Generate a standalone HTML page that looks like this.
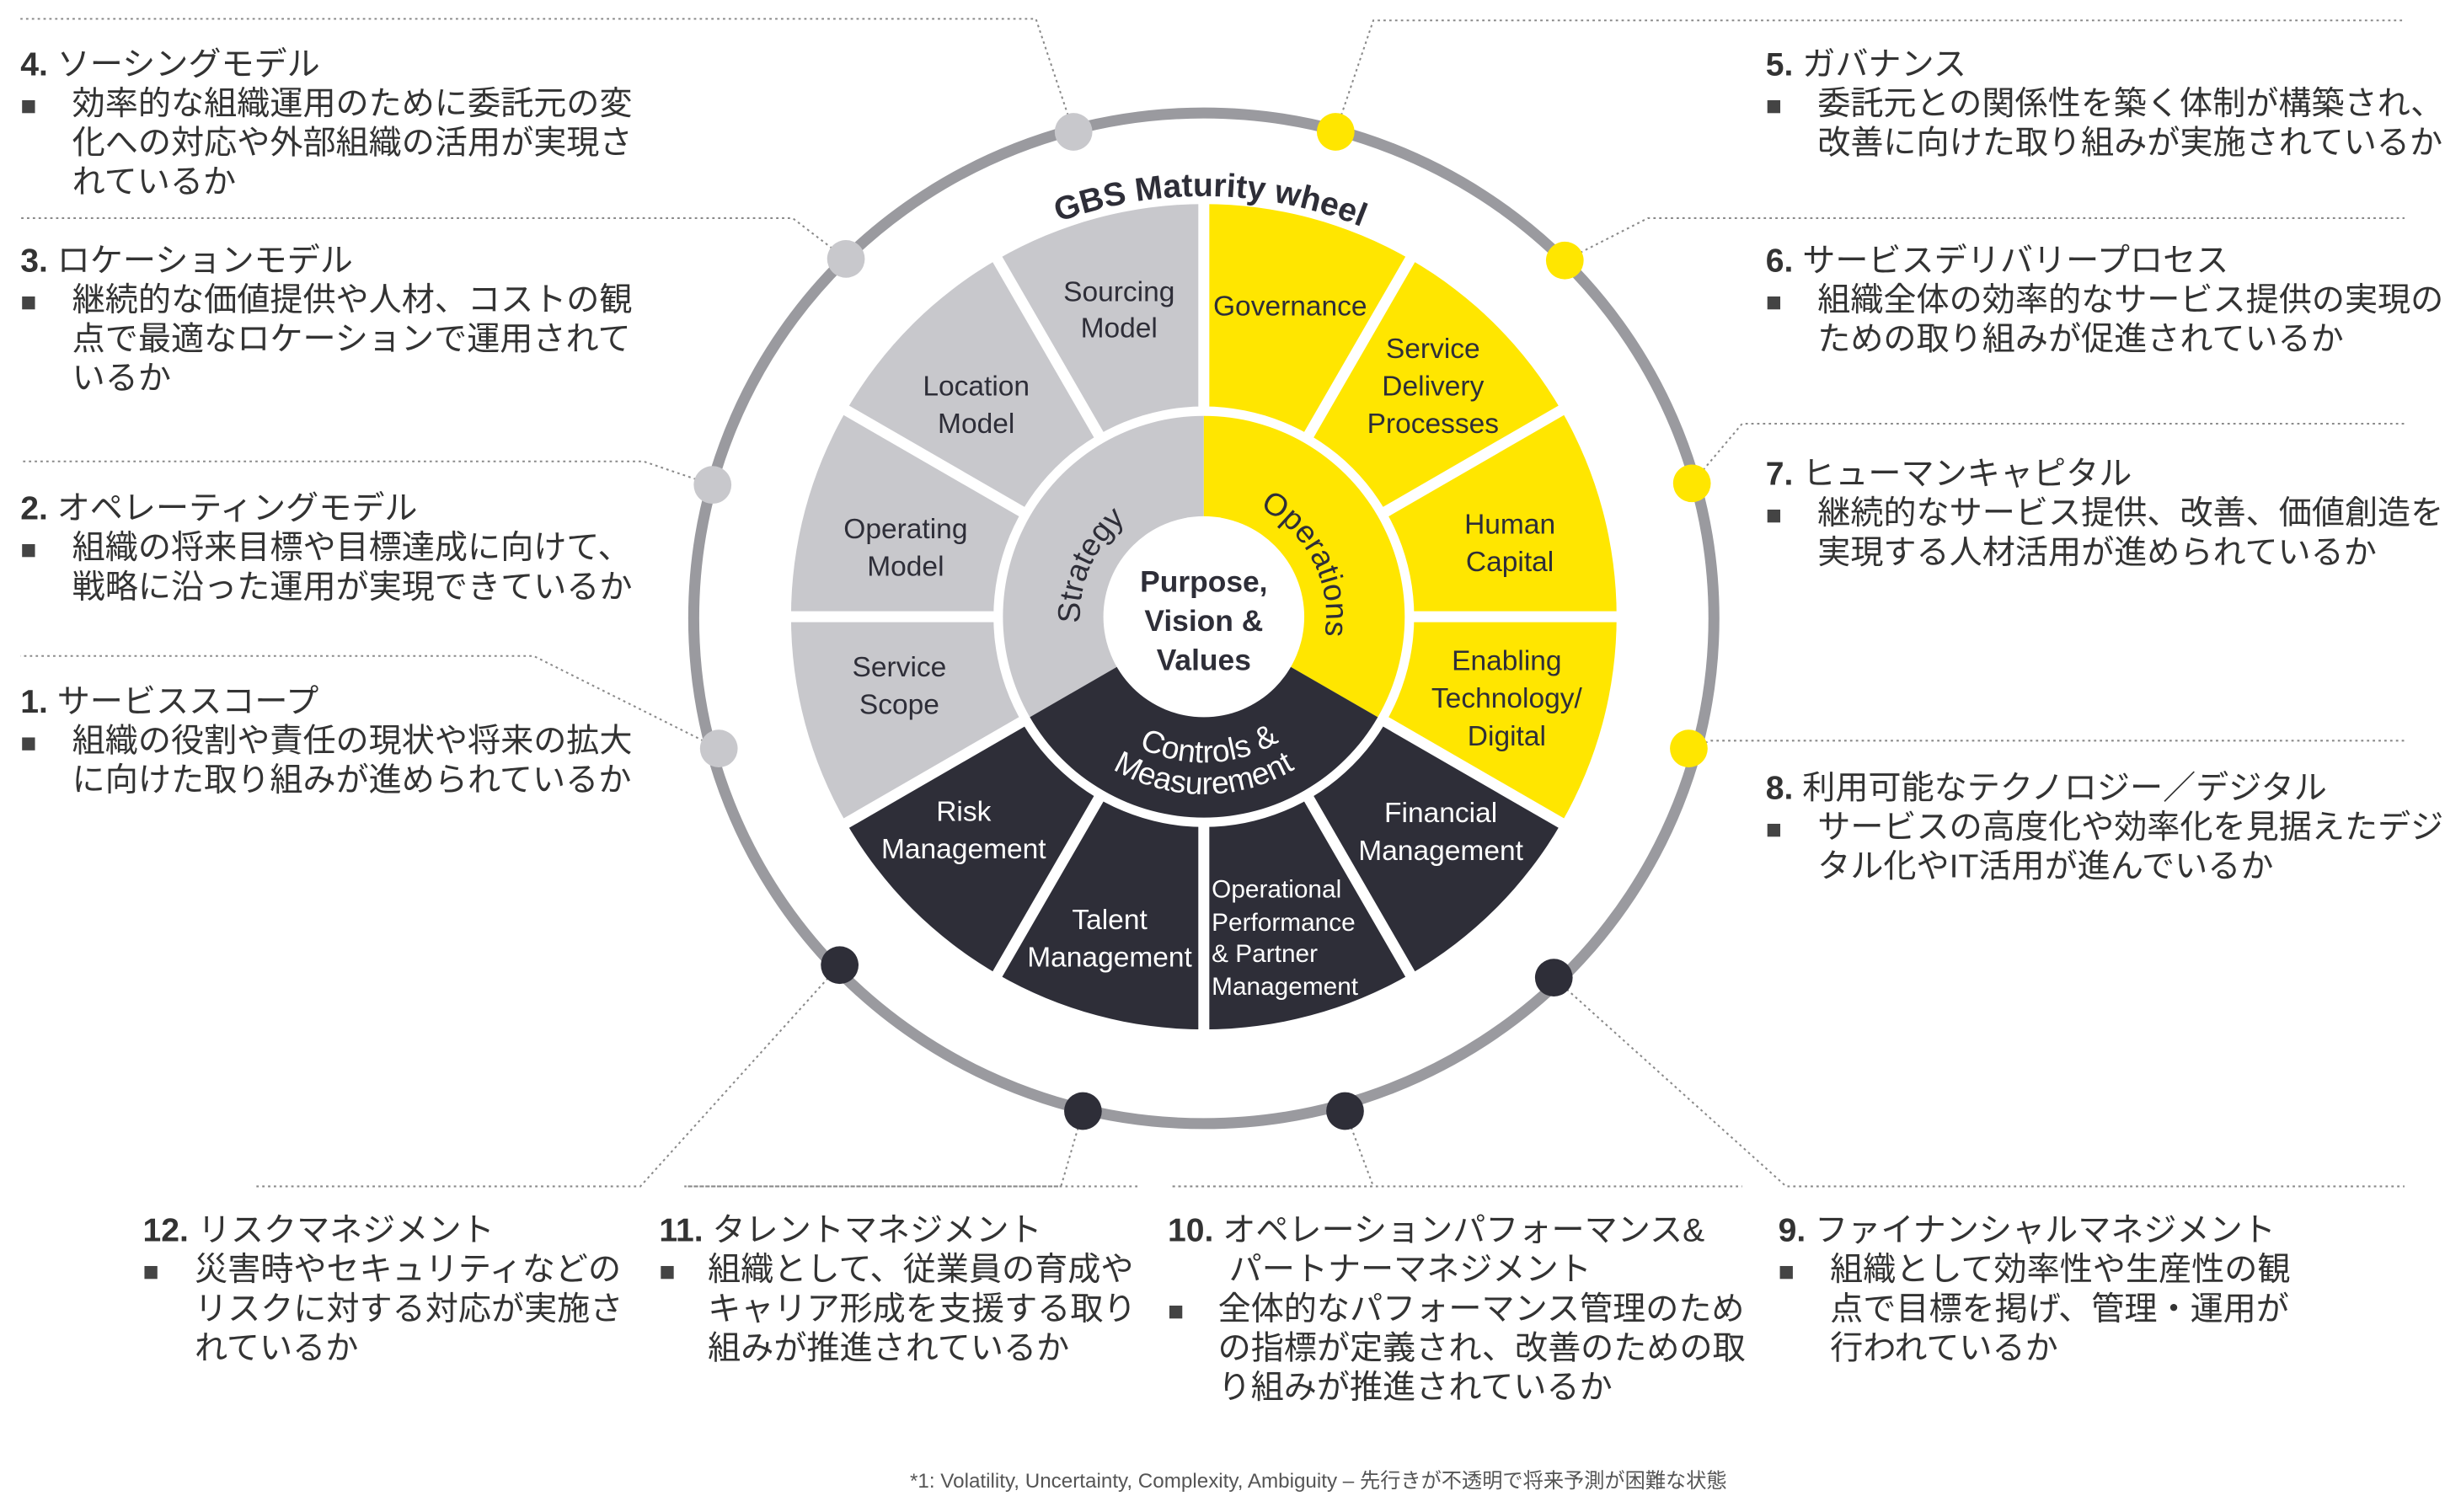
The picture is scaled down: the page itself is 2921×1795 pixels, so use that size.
<!DOCTYPE html>
<html><head><meta charset="utf-8"><style>
html,body{margin:0;padding:0;background:#fff;}
svg{display:block;}
.t{font-family:"Liberation Sans","Noto Sans CJK JP",sans-serif;font-size:21px;fill:#333;}
.b{font-family:"Liberation Sans","Noto Sans CJK JP",sans-serif;font-size:17px;fill:#444;}
.s{font-family:"Liberation Sans",sans-serif;font-size:18px;fill:#2e2e38;text-anchor:middle;}
.w{fill:#fff;}
.ld{fill:none;stroke:#8a8a8a;stroke-width:1.1;stroke-dasharray:1.5 2.2;}
</style></head><body>
<svg width="2921" height="1795" viewBox="0 0 1568 963.5" preserveAspectRatio="none" xmlns="http://www.w3.org/2000/svg">
<defs>
<path id="pG" d="M577.5,203.5 A268,268 0 0 1 956.5,203.5"/>
<path id="pS" d="M712.1,449.8 A79,79 0 0 1 772.5,314.2"/>
<path id="pO" d="M757.4,315.6 A78,78 0 0 1 824,446.2"/>
<path id="pC1" d="M686.5,439.5 A93,93 0 0 0 847.5,439.5"/>
<path id="pC2" d="M669.1,449.5 A113,113 0 0 0 864.9,449.5"/>
</defs>
<!-- leader lines -->
<g class="ld">
<polyline points="684,84 660,12 13,12"/>
<polyline points="539,165 505,139 13,139"/>
<polyline points="454,309 410,294 13,294"/>
<polyline points="458,477 358,427 340,418 13,418"/>
<polyline points="851,84 875,13 1532,13"/>
<polyline points="997,166 1050,139 1532,139"/>
<polyline points="1078,308 1110,270 1532,270"/>
<polyline points="1076,477 1090,472 1532,472"/>
<polyline points="535,615 408,756 163,756"/>
<polyline points="690,708 676,756 436,756 726,756"/>
<polyline points="857,708 875,756 746,756 1110,756"/>
<polyline points="990,623 1138,756 1532,756"/>
</g>
<!-- outer ring -->
<ellipse cx="767" cy="394" rx="325" ry="322" fill="none" stroke="#9a9a9f" stroke-width="7"/>
<g>
<circle cx="684" cy="84" r="12" fill="#c8c8cc"/><circle cx="539" cy="165" r="12" fill="#c8c8cc"/>
<circle cx="454" cy="309" r="12" fill="#c8c8cc"/><circle cx="458" cy="477" r="12" fill="#c8c8cc"/>
<circle cx="851" cy="84" r="12" fill="#ffe600"/><circle cx="997" cy="166" r="12" fill="#ffe600"/>
<circle cx="1078" cy="308" r="12" fill="#ffe600"/><circle cx="1076" cy="477" r="12" fill="#ffe600"/>
<circle cx="535" cy="615" r="12" fill="#2e2e38"/><circle cx="690" cy="708" r="12" fill="#2e2e38"/>
<circle cx="857" cy="708" r="12" fill="#2e2e38"/><circle cx="990" cy="623" r="12" fill="#2e2e38"/>
</g>
<!-- segments -->
<path d="M767,393 L539.24,524.5 A263,263 0 0 1 767,130 Z" fill="#c8c8cc"/>
<path d="M767,393 L767,130 A263,263 0 0 1 994.76,524.5 Z" fill="#ffe600"/>
<path d="M767,393 L994.76,524.5 A263,263 0 0 1 539.24,524.5 Z" fill="#2e2e38"/>
<g stroke="#fff" stroke-width="7">
<line x1="767" y1="123" x2="767" y2="663"/>
<line x1="902" y1="159.2" x2="632" y2="626.8"/>
<line x1="1000.8" y1="258" x2="533.2" y2="528"/>
<line x1="1037" y1="393" x2="497" y2="393"/>
<line x1="1000.8" y1="528" x2="533.2" y2="258"/>
<line x1="902" y1="626.8" x2="632" y2="159.2"/>
</g>
<circle cx="767" cy="393" r="134" fill="#fff"/>
<path d="M767,393 L656.15,457 A128,128 0 0 1 767,265 Z" fill="#c8c8cc"/>
<path d="M767,393 L767,265 A128,128 0 0 1 877.85,457 Z" fill="#ffe600"/>
<path d="M767,393 L877.85,457 A128,128 0 0 1 656.15,457 Z" fill="#2e2e38"/>
<circle cx="767" cy="393" r="64" fill="#fff"/>
<!-- curved labels -->
<text style="font-family:'Liberation Sans',sans-serif;font-weight:bold;font-size:21px;fill:#2e2e38"><textPath href="#pG" startOffset="51%" text-anchor="middle">GBS Maturity wheel</textPath></text>
<text style="font-family:'Liberation Sans',sans-serif;font-size:20px;fill:#2e2e38"><textPath href="#pS" startOffset="50%" text-anchor="middle">Strategy</textPath></text>
<text style="font-family:'Liberation Sans',sans-serif;font-size:20px;fill:#2e2e38"><textPath href="#pO" startOffset="50%" text-anchor="middle">Operations</textPath></text>
<text style="font-family:'Liberation Sans',sans-serif;font-size:20px;fill:#fff"><textPath href="#pC1" startOffset="52%" text-anchor="middle">Controls &amp;</textPath></text>
<text style="font-family:'Liberation Sans',sans-serif;font-size:20px;fill:#fff"><textPath href="#pC2" startOffset="50%" text-anchor="middle">Measurement</textPath></text>
<!-- center -->
<g style="font-family:'Liberation Sans',sans-serif;font-weight:bold;font-size:19px;fill:#2e2e38" text-anchor="middle">
<text x="767" y="377">Purpose,</text><text x="767" y="402">Vision &amp;</text><text x="767" y="427">Values</text>
</g>
<!-- segment labels -->
<g class="s">
<text x="713" y="192" class="s">Sourcing</text><text x="713" y="215" class="s">Model</text>
<text x="622" y="252" class="s">Location</text><text x="622" y="276" class="s">Model</text>
<text x="577" y="343" class="s">Operating</text><text x="577" y="367" class="s">Model</text>
<text x="573" y="431" class="s">Service</text><text x="573" y="455" class="s">Scope</text>
<text x="822" y="201" class="s">Governance</text>
<text x="913" y="228" class="s">Service</text><text x="913" y="252" class="s">Delivery</text><text x="913" y="276" class="s">Processes</text>
<text x="962" y="340" class="s">Human</text><text x="962" y="364" class="s">Capital</text>
<text x="960" y="427" class="s">Enabling</text><text x="960" y="451" class="s">Technology/</text><text x="960" y="475" class="s">Digital</text>
<text x="918" y="524" class="s" style="fill:#fff">Financial</text><text x="918" y="548" class="s" style="fill:#fff">Management</text>
<text x="707" y="592" class="s" style="fill:#fff">Talent</text><text x="707" y="616" class="s" style="fill:#fff">Management</text>
<text x="614" y="523" class="s" style="fill:#fff">Risk</text><text x="614" y="547" class="s" style="fill:#fff">Management</text>
</g>
<g style="font-family:'Liberation Sans',sans-serif;font-size:16px;fill:#fff">
<text x="772" y="572">Operational</text><text x="772" y="593">Performance</text><text x="772" y="613">&amp; Partner</text><text x="772" y="634">Management</text>
</g>
<!-- left texts -->
<g class="t">
<text x="13" y="48"><tspan font-weight="bold">4.</tspan> ソーシングモデル</text>
<text x="46" y="73">効率的な組織運用のために委託元の変</text><text x="46" y="98">化への対応や外部組織の活用が実現さ</text><text x="46" y="123">れているか</text>
<text x="13" y="173"><tspan font-weight="bold">3.</tspan> ロケーションモデル</text>
<text x="46" y="198">継続的な価値提供や人材、コストの観</text><text x="46" y="223">点で最適なロケーションで運用されて</text><text x="46" y="248">いるか</text>
<text x="13" y="331"><tspan font-weight="bold">2.</tspan> オペレーティングモデル</text>
<text x="46" y="356">組織の将来目標や目標達成に向けて、</text><text x="46" y="381">戦略に沿った運用が実現できているか</text>
<text x="13" y="454"><tspan font-weight="bold">1.</tspan> サービススコープ</text>
<text x="46" y="479">組織の役割や責任の現状や将来の拡大</text><text x="46" y="504">に向けた取り組みが進められているか</text>
<!-- right -->
<text x="1125" y="48"><tspan font-weight="bold">5.</tspan> ガバナンス</text>
<text x="1158" y="73">委託元との関係性を築く体制が構築され、</text><text x="1158" y="98">改善に向けた取り組みが実施されているか</text>
<text x="1125" y="173"><tspan font-weight="bold">6.</tspan> サービスデリバリープロセス</text>
<text x="1158" y="198">組織全体の効率的なサービス提供の実現の</text><text x="1158" y="223">ための取り組みが促進されているか</text>
<text x="1125" y="309"><tspan font-weight="bold">7.</tspan> ヒューマンキャピタル</text>
<text x="1158" y="334">継続的なサービス提供、改善、価値創造を</text><text x="1158" y="359">実現する人材活用が進められているか</text>
<text x="1125" y="509"><tspan font-weight="bold">8.</tspan> 利用可能なテクノロジー／デジタル</text>
<text x="1158" y="534">サービスの高度化や効率化を見据えたデジ</text><text x="1158" y="559">タル化やIT活用が進んでいるか</text>
<!-- bottom -->
<text x="91" y="791"><tspan font-weight="bold">12.</tspan> リスクマネジメント</text>
<text x="124" y="816">災害時やセキュリティなどの</text><text x="124" y="841">リスクに対する対応が実施さ</text><text x="124" y="866">れているか</text>
<text x="420" y="791"><tspan font-weight="bold">11.</tspan> タレントマネジメント</text>
<text x="451" y="816">組織として、従業員の育成や</text><text x="451" y="841">キャリア形成を支援する取り</text><text x="451" y="866">組みが推進されているか</text>
<text x="744" y="791"><tspan font-weight="bold">10.</tspan> オペレーションパフォーマンス&amp;</text>
<text x="783" y="816">パートナーマネジメント</text>
<text x="776" y="841">全体的なパフォーマンス管理のため</text><text x="776" y="866">の指標が定義され、改善のための取</text><text x="776" y="891">り組みが推進されているか</text>
<text x="1133" y="791"><tspan font-weight="bold">9.</tspan> ファイナンシャルマネジメント</text>
<text x="1166" y="816">組織として効率性や生産性の観</text><text x="1166" y="841">点で目標を掲げ、管理・運用が</text><text x="1166" y="866">行われているか</text>
</g>
<g class="b">
<text x="13" y="73">■</text><text x="13" y="198">■</text><text x="13" y="356">■</text><text x="13" y="479">■</text>
<text x="1125" y="73">■</text><text x="1125" y="198">■</text><text x="1125" y="334">■</text><text x="1125" y="534">■</text>
<text x="91" y="816">■</text><text x="420" y="816">■</text><text x="744" y="841">■</text><text x="1133" y="816">■</text>
</g>
<text x="840" y="948" text-anchor="middle" style="font-family:'Liberation Sans','Noto Sans CJK JP',sans-serif;font-size:13px;fill:#555">*1: Volatility, Uncertainty, Complexity, Ambiguity – 先行きが不透明で将来予測が困難な状態</text>
</svg>
</body></html>
